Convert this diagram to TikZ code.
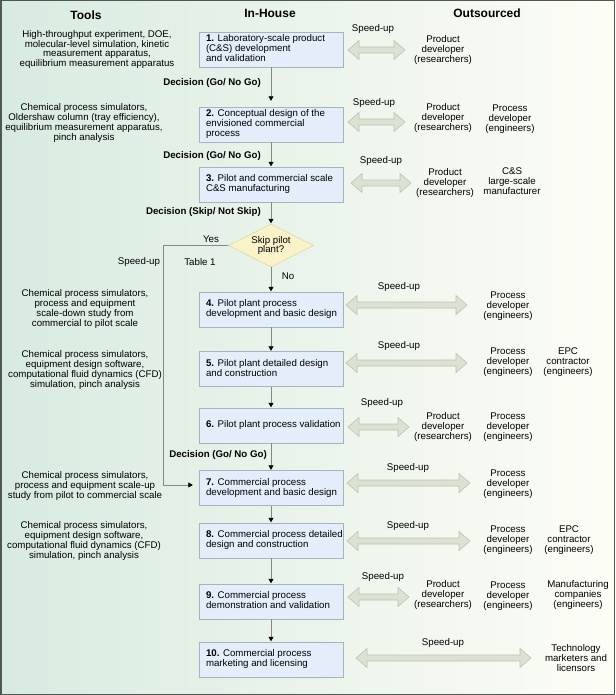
\documentclass[tikz,border=0pt]{standalone}
\usepackage{fontspec}
\setmainfont{Liberation Sans}
\usepackage{tikz}
\usetikzlibrary{shapes.geometric,arrows.meta}

\definecolor{bgleft}{RGB}{216,235,224}
\definecolor{bgright}{RGB}{253,253,246}
\definecolor{framegray}{RGB}{80,88,84}
\definecolor{boxfill}{RGB}{227,238,250}
\definecolor{boxdraw}{RGB}{166,178,190}
\definecolor{skipfill}{RGB}{250,243,202}
\definecolor{skipdraw}{RGB}{214,204,150}
\definecolor{speedfill}{RGB}{220,226,210}
\definecolor{speeddraw}{RGB}{186,196,176}
\definecolor{linegray}{RGB}{135,135,135}

\newcommand{\steplines}[1]{\makebox[130pt][l]{\begin{tabular}{@{}l@{}}#1\end{tabular}}}
\newcommand{\speedup}[3]{%
  \draw[speedarrow] (#1,#3) -- (#1+11,#3-9.5) -- (#1+11,#3-3) -- (#2-11,#3-3)
    -- (#2-11,#3-9.5) -- (#2,#3) -- (#2-11,#3+9.5) -- (#2-11,#3+3)
    -- (#1+11,#3+3) -- (#1+11,#3+9.5) -- cycle;}

\begin{document}
\begin{tikzpicture}[x=1pt,y=-1pt,
  every node/.style={font=\fontsize{9.7}{9.9}\selectfont,inner sep=1pt},
  step box/.style={draw=boxdraw,fill=boxfill,minimum height=35pt,
    inner xsep=7pt,inner ysep=2pt},
  skip box/.style={diamond,aspect=2,draw=skipdraw,fill=skipfill,
    minimum width=85pt,minimum height=43pt,inner sep=0pt,align=center},
  header/.style={font=\fontsize{12}{14}\selectfont\bfseries},
  decision/.style={font=\fontsize{9.7}{9.9}\selectfont\bfseries,anchor=east},
  party/.style={align=center},
  flow/.style={draw=linegray,line width=0.6pt,
    -{Triangle[width=5pt,length=4.5pt,black]},shorten >=0.5pt},
  speedarrow/.style={draw=speeddraw,fill=speedfill,line width=0.6pt}]

\useasboundingbox (0,0) rectangle (615,695);
\shade[left color=bgleft,right color=bgright] (0,0) rectangle (615,695);
\draw[framegray,line width=1.5pt] (0.75,0.75) rectangle (614.25,694.25);

% column heads
\node[header] (htools) at (86,15) {Tools};
\node[header] (hhouse) at (270,13) {In-House};
\node[header] (hout) at (487,13) {Outsourced};

% in-house steps
\node[step box] (s1) at (271,49.5) {\steplines{\textbf{1.} Laboratory-scale product\\(C\&S) development\\and validation}};
\node[step box] (s2) at (271,124.5) {\steplines{\textbf{2.} Conceptual design of the\\envisioned commercial\\process}};
\node[step box] (s3) at (271,184.5) {\steplines{\textbf{3.} Pilot and commercial scale\\C\&S manufacturing}};
\node[skip box] (skip) at (271,245.5) {Skip pilot\\plant?};
\node[step box] (s4) at (271,309.5) {\steplines{\textbf{4.} Pilot plant process\\development and basic design}};
\node[step box] (s5) at (271,369) {\steplines{\textbf{5.} Pilot plant detailed design\\and construction}};
\node[step box] (s6) at (271,425.5) {\steplines{\textbf{6.} Pilot plant process validation}};
\node[step box] (s7) at (271,488) {\steplines{\textbf{7.} Commercial process\\development and basic design}};
\node[step box] (s8) at (271,540.5) {\steplines{\textbf{8.} Commercial process detailed\\design and construction}};
\node[step box] (s9) at (271,601.5) {\steplines{\textbf{9.} Commercial process\\demonstration and validation}};
\node[step box] (s10) at (271,659.5) {\steplines{\textbf{10.} Commercial process\\marketing and licensing}};

% decisions
\node[decision] (d1) at (262,83) {Decision (Go/ No Go)};
\node[decision] (d2) at (262,156) {Decision (Go/ No Go)};
\node[decision] (d3) at (262,212) {Decision (Skip/ Not Skip)};
\node[decision] (d4) at (268,455) {Decision (Go/ No Go)};

\node (yes) at (211,239) {Yes};
\node (no) at (288,276) {No};
\node (table) at (200,262) {Table 1};
\node (spyes) at (139,262) {Speed-up};

% tools
\node[party] (t1) at (97,49.5) {High-throughput experiment, DOE,\\molecular-level simulation, kinetic\\measurement apparatus,\\equilibrium measurement apparatus};
\node[party] (t2) at (84,123) {Chemical process simulators,\\Oldershaw column (tray efficiency),\\equilibrium measurement apparatus,\\pinch analysis};
\node[party] (t4) at (85,309) {Chemical process simulators,\\process and equipment\\scale-down study from\\commercial to pilot scale};
\node[party] (t5) at (85,370) {Chemical process simulators,\\equipment design software,\\computational fluid dynamics (CFD)\\simulation, pinch analysis};
\node[party] (t7) at (85,486) {Chemical process simulators,\\process and equipment scale-up\\study from pilot to commercial scale};
\node[party] (t8) at (84,541) {Chemical process simulators,\\equipment design software,\\computational fluid dynamics (CFD)\\simulation, pinch analysis};

% outsourced
\node[party] (o1a) at (443,50) {Product\\developer\\(researchers)};
\node[party] (o2a) at (443,118) {Product\\developer\\(researchers)};
\node[party] (o2b) at (510,119) {Process\\developer\\(engineers)};
\node[party] (o3a) at (445,183) {Product\\developer\\(researchers)};
\node[party] (o3b) at (512,181) {C\&S\\large-scale\\manufacturer};
\node[party] (o4a) at (508,306) {Process\\developer\\(engineers)};
\node[party] (o5a) at (508,362) {Process\\developer\\(engineers)};
\node[party] (o5b) at (568,362) {EPC\\contractor\\(engineers)};
\node[party] (o6a) at (443,427) {Product\\developer\\(researchers)};
\node[party] (o6b) at (508,427) {Process\\developer\\(engineers)};
\node[party] (o7a) at (508,484) {Process\\developer\\(engineers)};
\node[party] (o8a) at (508,540) {Process\\developer\\(engineers)};
\node[party] (o8b) at (569,540) {EPC\\contractor\\(engineers)};
\node[party] (o9a) at (443,595) {Product\\developer\\(researchers)};
\node[party] (o9b) at (508,596) {Process\\developer\\(engineers)};
\node[party] (o9c) at (578,595) {Manufacturing\\companies\\(engineers)};
\node[party] (o10a) at (576,658) {Technology\\marketers and\\licensors};

% speed-up arrows
\speedup{348}{405}{50}
\speedup{348}{405}{122}
\speedup{351}{411}{183}
\speedup{346}{467}{305}
\speedup{346}{467}{363}
\speedup{348}{409}{427}
\speedup{347}{470}{483}
\speedup{347}{470}{541}
\speedup{348}{409}{597}
\speedup{356}{531}{658}

\node (sp1) at (373,29) {Speed-up};
\node (sp2) at (374,103) {Speed-up};
\node (sp3) at (381,161) {Speed-up};
\node (sp4) at (399,287) {Speed-up};
\node (sp5) at (399,346) {Speed-up};
\node (sp6) at (382,403) {Speed-up};
\node (sp7) at (408,468) {Speed-up};
\node (sp8) at (408,526) {Speed-up};
\node (sp9) at (383,577) {Speed-up};
\node (sp10) at (443,643) {Speed-up};

% flow
\draw[flow,shorten >=6pt] (s1) -- (s2);
\draw[flow] (s2) -- (s3);
\draw[flow] (s3) -- (skip);
\draw[flow] (skip) -- (s4);
\draw[flow] (s4) -- (s5);
\draw[flow] (s5) -- (s6);
\draw[flow] (s6) -- (s7);
\draw[flow] (s7) -- (s8);
\draw[flow] (s8) -- (s9);
\draw[flow] (s9) -- (s10);

\coordinate (ybend) at (163,245.5);
\coordinate (ylow) at (163,485);
\draw[flow,shorten >=6pt] (skip.west) -- (ybend) -- (ylow) -- (ylow -| s7.west);

\end{tikzpicture}
\end{document}
